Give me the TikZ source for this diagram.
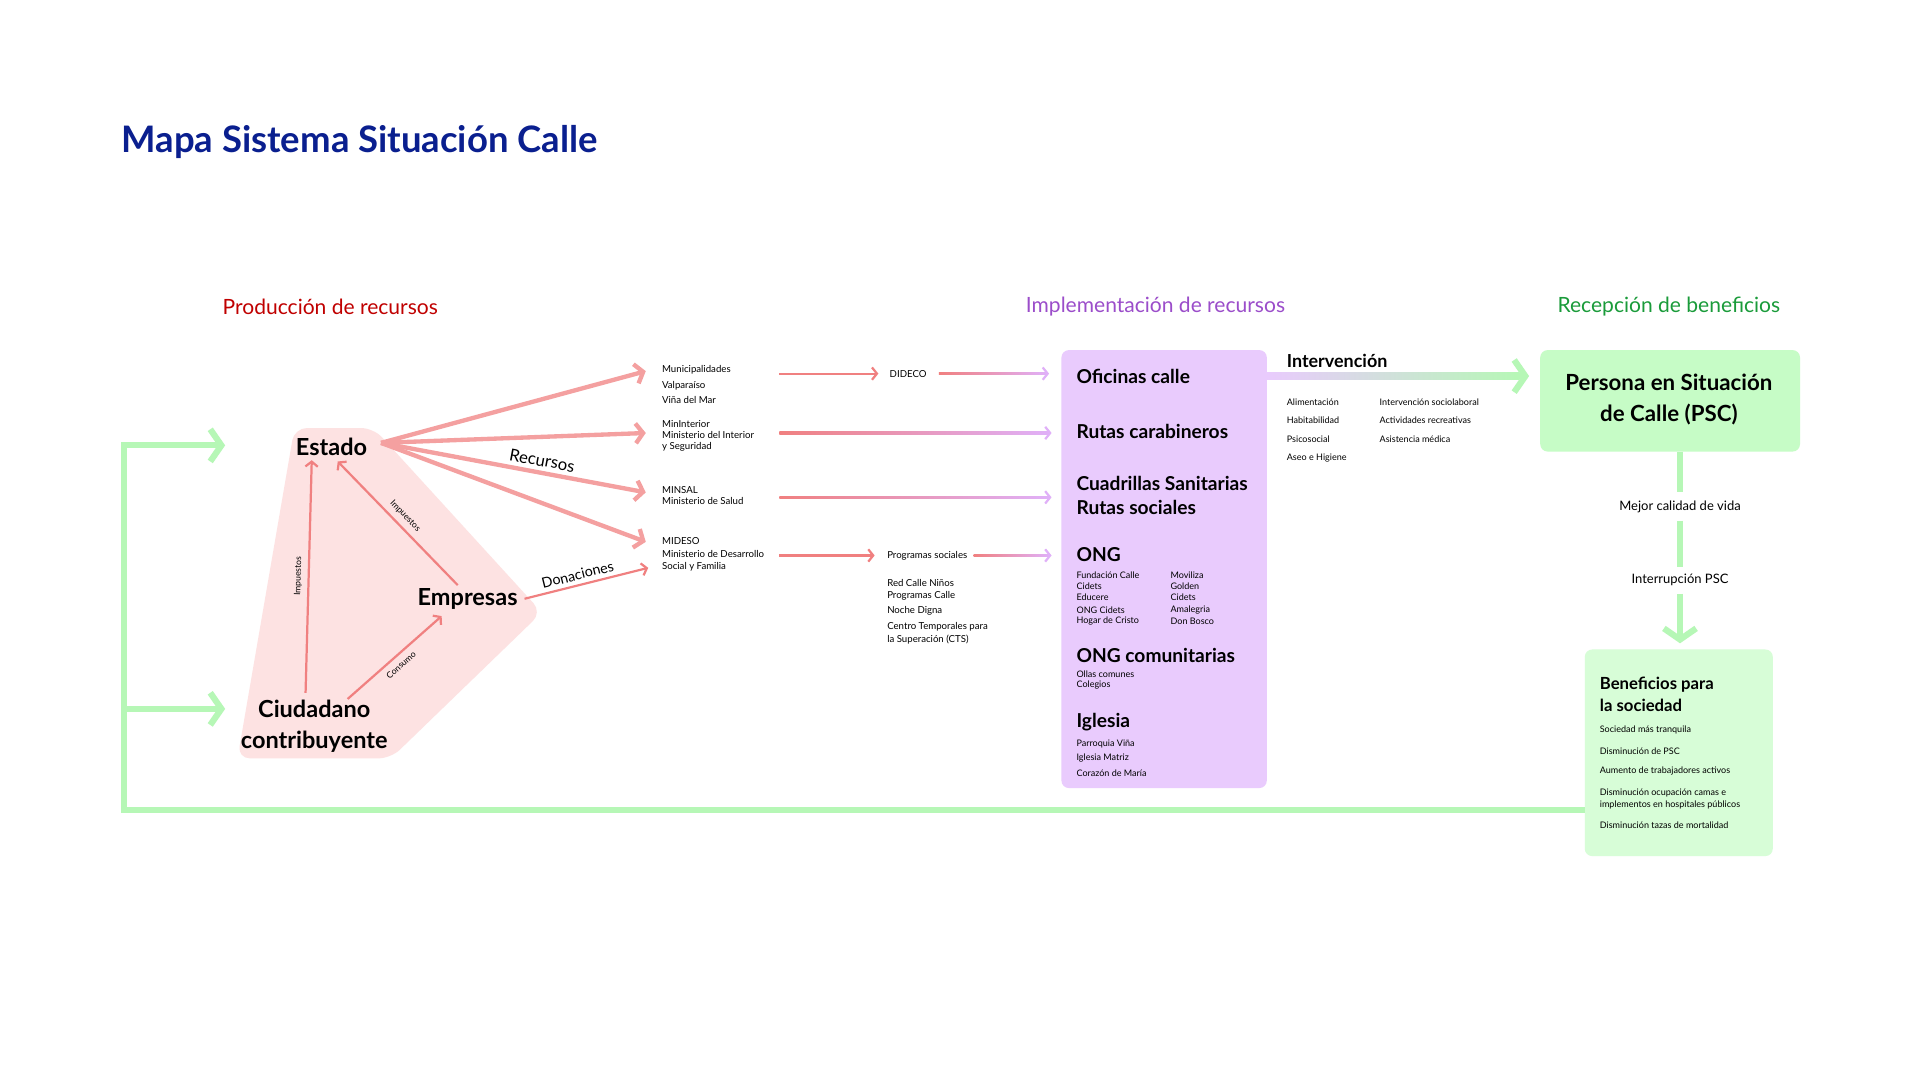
\documentclass[tikz,border=0pt]{standalone}
\usepackage{fontspec}
\setmainfont{Lato}
\usetikzlibrary{arrows.meta}
\definecolor{ttl}{HTML}{0A1F8F}
\definecolor{rd}{HTML}{C00000}
\definecolor{pu}{HTML}{9B4DCA}
\definecolor{gr}{HTML}{1A9B3A}
\definecolor{pinkbg}{HTML}{FDE2E2}
\definecolor{ar}{HTML}{F08080}
\definecolor{thk}{HTML}{F4A0A0}
\definecolor{lpu}{HTML}{E9CBFD}
\definecolor{apu}{HTML}{E0B0F8}
\definecolor{psc}{HTML}{C6FCC6}
\definecolor{ben}{HTML}{D7FDD7}
\definecolor{gline}{HTML}{B6F7B6}
\newcommand{\fs}[1]{\fontsize{#1}{#1}\selectfont}
\tikzset{
 tx/.style={anchor=west,inner sep=0pt,font=\fs{7.8}},
 sm/.style={anchor=west,inner sep=0pt,font=\fs{7.3}},
 big/.style={anchor=west,inner sep=0pt,font=\fs{15.5}\bfseries},
 thin/.style={draw=ar,line width=1.8pt,-{Straight Barb[length=4pt,width=10pt]}},
 thick/.style={draw=thk,line width=3.5pt,-{Straight Barb[length=6pt,width=16pt]}},
 grn/.style={draw=gline,line width=5pt},
 chev/.style={draw=gline,line width=5pt,-{Straight Barb[length=9pt,width=26pt]}},
}
\begin{document}
\begin{tikzpicture}[x=1pt,y=-1pt]
\useasboundingbox (0,0) rectangle (1552,873);
\fill[white] (0,0) rectangle (1552,873);
\node[anchor=west,inner sep=0,text=ttl,font=\fs{29.5}\bfseries] (title) at (98,115) {Mapa Sistema Situación Calle};
\node[text=rd,font=\fs{17}] (h1) at (267,248) {Producción de recursos};
\node[text=pu,font=\fs{17}] (h2) at (934,248) {Implementación de recursos};
\node[text=gr,font=\fs{17}] (h3) at (1349,248) {Recepción de beneficios};
% pink region
\fill[pinkbg,rounded corners=10pt] (238,346) -- (302,346) -- (438,495) -- (316,613) -- (192,613) -- cycle;
\node[font=\fs{19}\bfseries] (est) at (268,361) {Estado};
\node[font=\fs{19}\bfseries] (emp) at (378,484) {Empresas};
\node[font=\fs{19}\bfseries,align=center] (ciu) at (254,587) {Ciudadano\\[6pt]contribuyente};
\coordinate (e0) at (308,358);
\draw[thin] (247,560) -- node[sloped,above=1pt,font=\fs{7}]{Impuestos} (252,372);
\draw[thin] (370,473) -- node[sloped,above=1pt,font=\fs{7}]{Impuestos} (273,373);
\draw[thin] (281,565) -- node[sloped,below=1pt,font=\fs{7}]{Consumo} (357,498);
\draw[thick] (e0) -- (522,300);
\draw[thick] (e0) -- (522,350);
\draw[thick] (e0) -- node[pos=0.6,sloped,above,font=\fs{13.5},text=black]{Recursos} (522,398);
\draw[thick] (e0) -- (522,438);
\draw[thin] (424,484) -- node[pos=0.45,sloped,above,font=\fs{11.5}]{Donaciones} (524,459);
% agencies
\node[tx] (m1) at (535,299) {Municipalidades};
\node[tx] at (535,312) {Valparaíso};
\node[tx] at (535,323) {Viña del Mar};
\node[tx] (m2) at (535,343) {MinInterior};
\node[tx] at (535,352) {Ministerio del Interior};
\node[tx] at (535,361) {y Seguridad};
\node[tx] (m3) at (535,396) {MINSAL};
\node[tx] at (535,405) {Ministerio de Salud};
\node[tx] (m4) at (535,437) {MIDESO};
\node[tx] at (535,448) {Ministerio de Desarrollo};
\node[tx] at (535,458) {Social y Familia};
\node[tx] (did) at (719,302) {DIDECO};
\node[tx] (pro) at (717,449) {Programas sociales};
\node[tx] at (717,471) {Red Calle Niños};
\node[tx] at (717,482) {Programas Calle};
\node[tx] at (717,494) {Noche Digna};
\node[tx] at (717,507) {Centro Temporales para};
\node[tx] at (717,517) {la Superación (CTS)};
\draw[thin] (630,302) -- (710,302);
\draw[thin] (630,449) -- (707,449);
\foreach \a/\b/\y in {759/848/302,630/850/350,630/850/402,787/850/449}{
 \shade[left color=ar,right color=apu] (\a,\y-1) rectangle (\b-2,\y+1);
 \draw[apu,line width=1.8pt,-{Straight Barb[length=4pt,width=10pt]}] (\b-3,\y) -- (\b,\y);
}
% purple box
\fill[lpu,rounded corners=6pt] (858,283) rectangle (1024,637);
\node[big] (b1) at (870,304) {Oficinas calle};
\node[big] (b2) at (870,349) {Rutas carabineros};
\node[big] (b3) at (870,391) {Cuadrillas Sanitarias};
\node[big] at (870,410) {Rutas sociales};
\node[big] (b4) at (870,448) {ONG};
\foreach \t/\y in {Fundación Calle/465,Cidets/474,Educere/483,ONG Cidets/493,Hogar de Cristo/502}{\node[sm] at (870,\y) {\t};}
\foreach \t/\y in {Moviliza/465,Golden/474,Cidets/483,Amalegria/493,Don Bosco/502}{\node[sm] at (946,\y) {\t};}
\node[big] (b5) at (870,530) {ONG comunitarias};
\node[sm] at (870,545) {Ollas comunes};
\node[sm] at (870,554) {Colegios};
\node[big] (b6) at (870,584) {Iglesia};
\node[sm] at (870,601) {Parroquia Viña};
\node[sm] at (870,613) {Iglesia Matriz};
\node[sm] at (870,625) {Corazón de María};
% intervention
\node[anchor=west,inner sep=0,font=\fs{14.5}\bfseries] (int) at (1040,292) {Intervención};
\shade[left color=lpu,right color=gline] (1024,301) rectangle (1228,307);
\draw[gline,line width=5pt,-{Straight Barb[length=9pt,width=26pt]}] (1224,304) -- (1236,304);
\foreach \t/\y in {Alimentación/325,Habitabilidad/340,Psicosocial/355,Aseo e Higiene/370}{\node[sm] at (1040,\y) {\t};}
\foreach \t/\y in {Intervención sociolaboral/325,Actividades recreativas/340,Asistencia médica/355}{\node[sm] at (1115,\y) {\t};}
% PSC
\fill[psc,rounded corners=6pt] (1245,283) rectangle (1455,365);
\node[align=center,font=\fs{18}\bfseries] (pscn) at (1349,323) {Persona en Situación\\[7pt]de Calle (PSC)};
\draw[grn] (1358,365) -- (1358,398);
\node[font=\fs{10.5}] (mej) at (1358,410) {Mejor calidad de vida};
\draw[grn] (1358,421) -- (1358,458);
\node[font=\fs{10.5}] (intp) at (1358,469) {Interrupción PSC};
\draw[chev] (1358,480) -- (1358,520);
% beneficios
\fill[ben,rounded corners=6pt] (1281,525) rectangle (1433,692);
\node[anchor=west,align=left,inner sep=0,font=\fs{13.5}\bfseries] (bent) at (1293,561) {Beneficios para\\[4pt]la sociedad};
\foreach \t/\y in {Sociedad más tranquila/590,Disminución de PSC/607,Aumento de trabajadores activos/623,Disminución ocupación camas e/641,implementos en hospitales públicos/651,Disminución tazas de mortalidad/667}{\node[sm] at (1293,\y) {\t};}
% loop
\draw[grn,line join=miter] (1281,655) -- (100,655) -- (100,360) -- (160,360);
\draw[chev] (98,360) -- (182,360);
\draw[chev] (100,573) -- (182,573);
\end{tikzpicture}
\end{document}
